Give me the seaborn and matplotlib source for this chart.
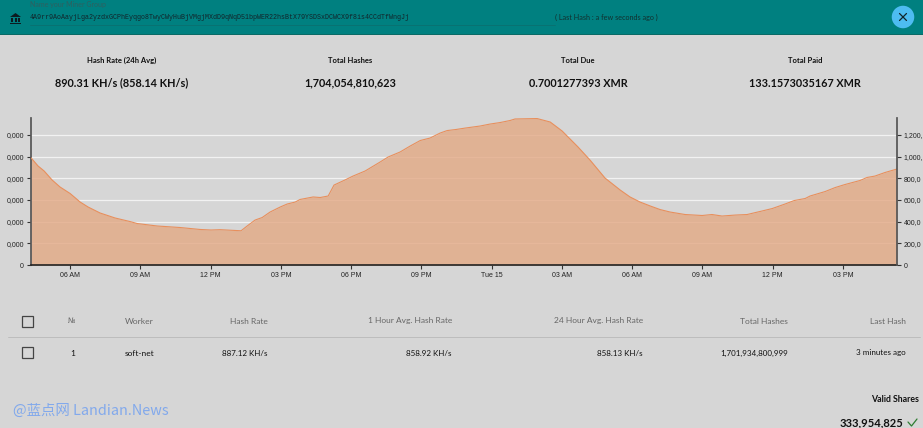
import matplotlib
matplotlib.use("Agg")
import matplotlib.pyplot as plt
import matplotlib.patches as mpatches
import pandas as pd
import seaborn as sns

# hours since Monday 00:00, hash rate in KH/s
hours = [4.33, 4.63, 4.89, 5.23, 5.57, 6.00, 6.43, 6.77, 7.28, 7.92, 8.56, 8.86,
         9.72, 10.70, 11.55, 12.02, 12.41, 13.30, 13.56, 13.90, 14.20, 14.54,
         14.97, 15.27, 15.61, 15.82, 16.38, 16.68, 17.02, 17.27, 17.74, 18.08,
         18.60, 19.24, 19.58, 20.09, 20.52, 20.95, 21.37, 21.80, 22.10, 22.48,
         22.87, 23.51, 23.93, 24.36, 24.79, 25.00, 25.94, 26.50, 27.01, 27.69,
         28.20, 28.84, 29.49, 29.91, 30.34, 30.77, 31.19, 31.62, 32.26, 32.99,
         33.41, 33.84, 34.40, 34.91, 35.46, 35.98, 36.53, 36.92, 37.39, 37.60,
         38.24, 38.67, 39.09, 39.73, 40.03, 40.37, 40.80, 41.31]
hash_rate = [990, 914, 868, 785, 720, 660, 581, 535, 480, 434, 401, 383,
             360, 346, 328, 323, 326, 316, 360, 415, 438, 489,
             535, 563, 581, 605, 628, 623, 637, 738, 785, 821,
             868, 951, 997, 1043, 1098, 1149, 1172, 1218, 1241, 1251,
             1264, 1283, 1301, 1315, 1334, 1348, 1352, 1320, 1237, 1089,
             969, 803, 692, 628, 581, 545, 512, 489, 466, 457,
             466, 452, 461, 466, 494, 521, 563, 595, 614, 637,
             678, 715, 743, 780, 808, 821, 854, 886]

x_ticks = [6, 9, 12, 15, 18, 21, 24, 27, 30, 33, 36, 39]
x_labels = ["06 AM", "09 AM", "12 PM", "03 PM", "06 PM", "09 PM", "Tue 15",
            "03 AM", "06 AM", "09 AM", "12 PM", "03 PM"]
y_ticks = [0, 200, 400, 600, 800, 1000, 1200]
left_labels = ["0", "0,000", "0,000", "0,000", "0,000", "0,000", "0,000"]
right_labels = ["0", "200,0", "400,0", "600,0", "800,0", "1,000,", "1,200,"]

stats = ["Hash Rate (24h Avg)", "Total Hashes", "Total Due", "Total Paid"]
stat_values = ["890.31 KH/s (858.14 KH/s)", "1,704,054,810,623",
               "0.7001277393 XMR", "133.1573035167 XMR"]
headers = ["Hash Rate", "1 Hour Avg. Hash Rate", "24 Hour Avg. Hash Rate",
           "Total Hashes", "Last Hash"]
row = ["887.12 KH/s", "858.92 KH/s", "858.13 KH/s", "1,701,934,800,999", "3 minutes ago"]
address = "4A9rr9AoAayjLga2yzdxGCPhEyqgo8TwyCWyHuBjVMgjMXdD9qNqD51bpWER22hsBtX79YSDSxDCWCX9f8is4CCdTfWngJj"

W, H = 923, 428
BG = "#d6d6d6"
TEAL = "#008080"
TICK_FONT = "Liberation Sans"

sns.set_theme(style="white")
plt.rcParams["font.family"] = ["Lato", "DejaVu Sans"]

df = pd.DataFrame({"hour": hours, "rate": hash_rate})

fig = plt.figure(figsize=(W / 100, H / 100), dpi=100, facecolor=BG)

# chart
ax = fig.add_axes([31 / W, 1 - 265 / H, (897 - 31) / W, (265 - 118) / H])
ax.patch.set_alpha(0)
for v in y_ticks[1:]:
    ax.axhline(v, color="#f2f2f2", lw=0.9, zorder=1)
ax.fill_between(df["hour"], df["rate"], 0, color="#e3a984", alpha=0.8, lw=0, zorder=2)
sns.lineplot(data=df, x="hour", y="rate", ax=ax, color="#e88f5c", lw=0.8, zorder=3)
ax.set_xlim(4.33, 41.31)
ax.set_ylim(0, 1357)
ax.set_xlabel("")
ax.set_ylabel("")
ax.set_xticks(x_ticks)
ax.set_xticklabels(x_labels, family=TICK_FONT, fontsize=5, color="#222222")
ax.set_yticks(y_ticks)
ax.set_yticklabels(left_labels, family=TICK_FONT, fontsize=5, color="#222222")
ax.tick_params(axis="both", length=3, width=0.8, color="#333333", pad=2, left=True, bottom=True)
ax.spines["top"].set_visible(False)
ax.spines["right"].set_visible(False)
ax.spines["left"].set_color("#555555")
ax.spines["bottom"].set_color("#222222")
ax.spines["bottom"].set_linewidth(1.2)

ax2 = ax.twinx()
ax2.patch.set_alpha(0)
ax2.set_ylim(0, 1357)
ax2.set_yticks(y_ticks)
ax2.set_yticklabels(right_labels, family=TICK_FONT, fontsize=5, color="#222222")
ax2.tick_params(axis="y", length=3, width=0.8, color="#333333", pad=2, right=True)
for name in ["top", "left", "bottom"]:
    ax2.spines[name].set_visible(False)
ax2.spines["right"].set_color("#555555")
ax2.grid(False)

# page furniture in pixel coordinates
page = fig.add_axes([0, 0, 1, 1], zorder=5)
page.set_xlim(0, W)
page.set_ylim(H, 0)
page.axis("off")


def txt(x, y, s, ha="center", size=6.5, color="#111111", weight="normal", **kw):
    page.text(x, y, s, ha=ha, va="center", fontsize=size, color=color, weight=weight, **kw)


page.add_patch(mpatches.Rectangle((0, 0), W, 34, color=TEAL, lw=0))
page.add_patch(mpatches.Rectangle((0, 34), W, 1, color="#0a6a66", lw=0))
page.plot([30, 555], [25, 25], color="#0a7070", lw=0.6)
txt(30, 4, "Name your Miner Group", ha="left", size=5, color="#2f5f5f")
txt(30, 17.5, address, ha="left", size=4.75, color="#12242a", family="Liberation Mono")
txt(555, 17.5, "( Last Hash : a few seconds ago )", ha="left", size=5.2, color="#12302f")

# bank icon
page.add_patch(mpatches.Polygon([[10, 17], [15.5, 13], [21, 17]], color="#0c1c20", lw=0))
for bx in [11, 14.5, 18]:
    page.add_patch(mpatches.Rectangle((bx, 18), 2, 4, color="#0c1c20", lw=0))
page.add_patch(mpatches.Rectangle((10, 22.5), 11, 1.6, color="#0c1c20", lw=0))

# close button
page.add_patch(mpatches.Ellipse((903, 17), 22.5, 22.5, color="#4dbcf2", lw=0))
page.plot([899.5, 906.5], [13.5, 20.5], color="#12242a", lw=0.9)
page.plot([899.5, 906.5], [20.5, 13.5], color="#12242a", lw=0.9)

for cx, s, v in zip([122, 350, 578, 805], stats, stat_values):
    txt(cx, 60, s, weight="bold", size=5.5)
    txt(cx, 83, v, weight="bold", size=7.8)

page.plot([8, 920], [337, 337], color="#bdbdbd", lw=0.7)
for by in [316, 347]:
    page.add_patch(mpatches.Rectangle((22, by), 10.5, 10.5, fill=False, ec="#444444", lw=0.9))

txt(72, 321, "№", size=5.2, color="#666666", family="DejaVu Sans")
txt(139, 321, "Worker", size=6.1, color="#666666")
txt(73, 353, "1", size=6)
txt(140, 353, "soft-net", size=6)
for rx, h, r in zip([268, 452, 643, 788, 906], headers, row):
    txt(rx, 321, h, ha="right", size=6.05, color="#666666")
    txt(rx, 353, r, ha="right", size=5.8)

txt(919, 400, "Valid Shares", ha="right", weight="bold", size=6.3)
txt(903, 423, "333,954,825", ha="right", weight="bold", size=8)
page.plot([908, 911.5, 917], [422, 426, 419], color="#2e7d32", lw=0.9)

txt(13, 411, "@蓝点网 Landian.News", ha="left", size=10.4, color="#82a9ec",
    family=["Noto Sans CJK SC", "DejaVu Sans"])

fig.savefig("out.png", dpi=100, facecolor=BG)
